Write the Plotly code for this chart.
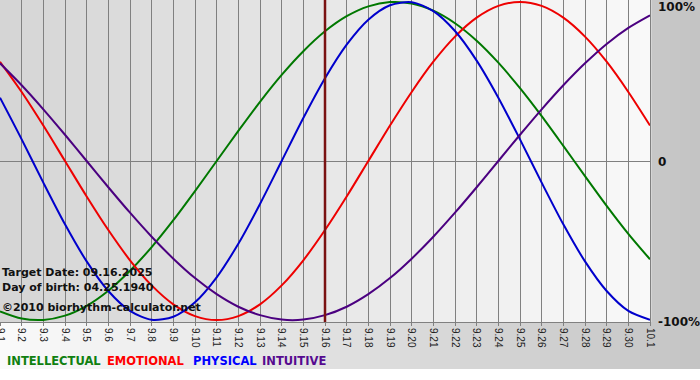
import plotly.graph_objects as go

# ---- data (one per day) ----
days = ["9.1", "9.2", "9.3", "9.4", "9.5", "9.6", "9.7", "9.8", "9.9", "9.10",
        "9.11", "9.12", "9.13", "9.14", "9.15", "9.16", "9.17", "9.18", "9.19", "9.20",
        "9.21", "9.22", "9.23", "9.24", "9.25", "9.26", "9.27", "9.28", "9.29", "9.30", "10.1"]

intellectual = [-0.945, -0.990, -0.999, -0.972, -0.910, -0.815, -0.690, -0.541, -0.372, -0.189,
                0.000, 0.189, 0.372, 0.541, 0.690, 0.815, 0.910, 0.972, 0.999, 0.990,
                0.945, 0.866, 0.756, 0.618, 0.458, 0.282, 0.095, -0.095, -0.282, -0.458, -0.618]

emotional = [0.624, 0.434, 0.223, 0.000, -0.223, -0.434, -0.624, -0.782, -0.901, -0.975,
             -1.000, -0.975, -0.901, -0.782, -0.624, -0.434, -0.223, 0.000, 0.223, 0.434,
             0.624, 0.782, 0.901, 0.975, 1.000, 0.975, 0.901, 0.782, 0.624, 0.434, 0.223]

physical = [0.398, 0.136, -0.136, -0.398, -0.631, -0.817, -0.942, -0.998, -0.979, -0.888,
            -0.731, -0.520, -0.270, 0.000, 0.270, 0.520, 0.731, 0.888, 0.979, 0.998,
            0.942, 0.817, 0.631, 0.398, 0.136, -0.136, -0.398, -0.631, -0.817, -0.942, -0.998]

intuitive = [0.614, 0.476, 0.325, 0.165, 0.000, -0.165, -0.325, -0.476, -0.614, -0.736,
             -0.837, -0.916, -0.969, -0.997, -0.997, -0.969, -0.916, -0.837, -0.736, -0.614,
             -0.476, -0.325, -0.165, 0.000, 0.165, 0.325, 0.476, 0.614, 0.736, 0.837, 0.916]

target_day = "9.16"
series_names = ["INTELLECTUAL", "EMOTIONAL", "PHYSICAL", "INTUITIVE"]
series_values = [intellectual, emotional, physical, intuitive]
line_colors = ["#007800", "#ee0000", "#0000cc", "#4b0080"]
legend_colors = ["#108010", "#ff0000", "#0000ff", "#560a90"]
y_labels = ["100%", "0", "-100%"]
info_lines = ["Target Date: 09.16.2025", "Day of birth: 04.25.1940", "©2010 biorhythm-calculator.net"]

W, H = 700, 380
PL, PR, PT, PB = 0, 50, 0, 58
pw, ph = W - PL - PR, H - PT - PB

fig = go.Figure()
for name, vals, col in zip(series_names, series_values, line_colors):
    fig.add_trace(go.Scatter(x=days, y=vals, mode="lines", name=name,
                             line=dict(color=col, width=2, shape="spline", smoothing=0.8),
                             hoverinfo="skip"))

shapes = []
# outer background gradient (white -> gray), down to the legend band
n_out = 70
for i in range(n_out):
    v = int(round(250 - (250 - 196) * (i + 0.5) / n_out))
    shapes.append(dict(type="rect", xref="paper", yref="paper", layer="below",
                       x0=i * (W / n_out) / pw, x1=(i + 1) * (W / n_out) / pw + 0.002,
                       y0=-(369 - ph) / ph, y1=1, line_width=0,
                       fillcolor=f"rgb({v},{v},{v})"))
# plot area gradient (gray -> near white)
n_in = 65
for i in range(n_in):
    v = int(round(213 - (213 - 249) * (i + 0.5) / n_in))
    shapes.append(dict(type="rect", xref="paper", yref="paper", layer="below",
                       x0=i / n_in, x1=(i + 1) / n_in + 0.002, y0=0, y1=1, line_width=0,
                       fillcolor=f"rgb({v},{v},{v})"))
# target date marker (category axis -> use the category index)
t_idx = days.index(target_day)
shapes.append(dict(type="line", xref="x", yref="paper", layer="above",
                   x0=t_idx, x1=t_idx, y0=0, y1=1,
                   line=dict(color="#7a1212", width=2.5)))

annotations = []
info_y = [272, 287, 307]
for txt, py in zip(info_lines, info_y):
    annotations.append(dict(text="<b>" + txt + "</b>", xref="paper", yref="paper",
                            x=0, y=(ph - py) / ph, xanchor="left", yanchor="middle",
                            showarrow=False, font=dict(family="DejaVu Sans", size=11, color="#111")))
leg_x = [5, 105, 191, 260]
for txt, col, px in zip(series_names, legend_colors, leg_x):
    annotations.append(dict(text="<b>" + txt + "</b>", xref="paper", yref="paper",
                            x=px / pw, y=(ph - 361) / ph, xanchor="left", yanchor="middle",
                            showarrow=False, font=dict(family="DejaVu Sans", size=11.5, color=col)))
ylab_py = [7, 162, 322]
for txt, py in zip(y_labels, ylab_py):
    annotations.append(dict(text="<b>" + txt + "</b>", xref="paper", yref="paper",
                            x=656 / pw, y=(ph - py) / ph, xanchor="left", yanchor="middle",
                            showarrow=False, font=dict(family="DejaVu Sans", size=12, color="#111")))

fig.update_layout(
    width=W, height=H,
    margin=dict(l=PL, r=PR, t=PT, b=PB, pad=0, autoexpand=False),
    paper_bgcolor="white", plot_bgcolor="rgba(0,0,0,0)",
    showlegend=False,
    shapes=shapes, annotations=annotations,
    xaxis=dict(type="category", categoryorder="array", categoryarray=days,
               range=[0, len(days) - 1], showgrid=True, gridcolor="#808080", gridwidth=1,
               showline=True, linecolor="#808080", linewidth=1, mirror=True,
               ticks="outside", ticklen=3, tickcolor="#808080", tickangle=90,
               tickfont=dict(family="Liberation Sans", size=10, color="#222"),
               zeroline=False, fixedrange=True, automargin=False),
    yaxis=dict(range=[-1.012, 1.012], tickvals=[0], showticklabels=False,
               showgrid=True, gridcolor="#808080", gridwidth=1,
               zeroline=True, zerolinecolor="#808080", zerolinewidth=1,
               showline=True, linecolor="#808080", linewidth=1, mirror=True,
               fixedrange=True, automargin=False),
)

fig.write_html("out.html", config={"displayModeBar": False, "staticPlot": True},
               post_script="document.body.style.margin='0px';document.body.style.padding='0px';")
